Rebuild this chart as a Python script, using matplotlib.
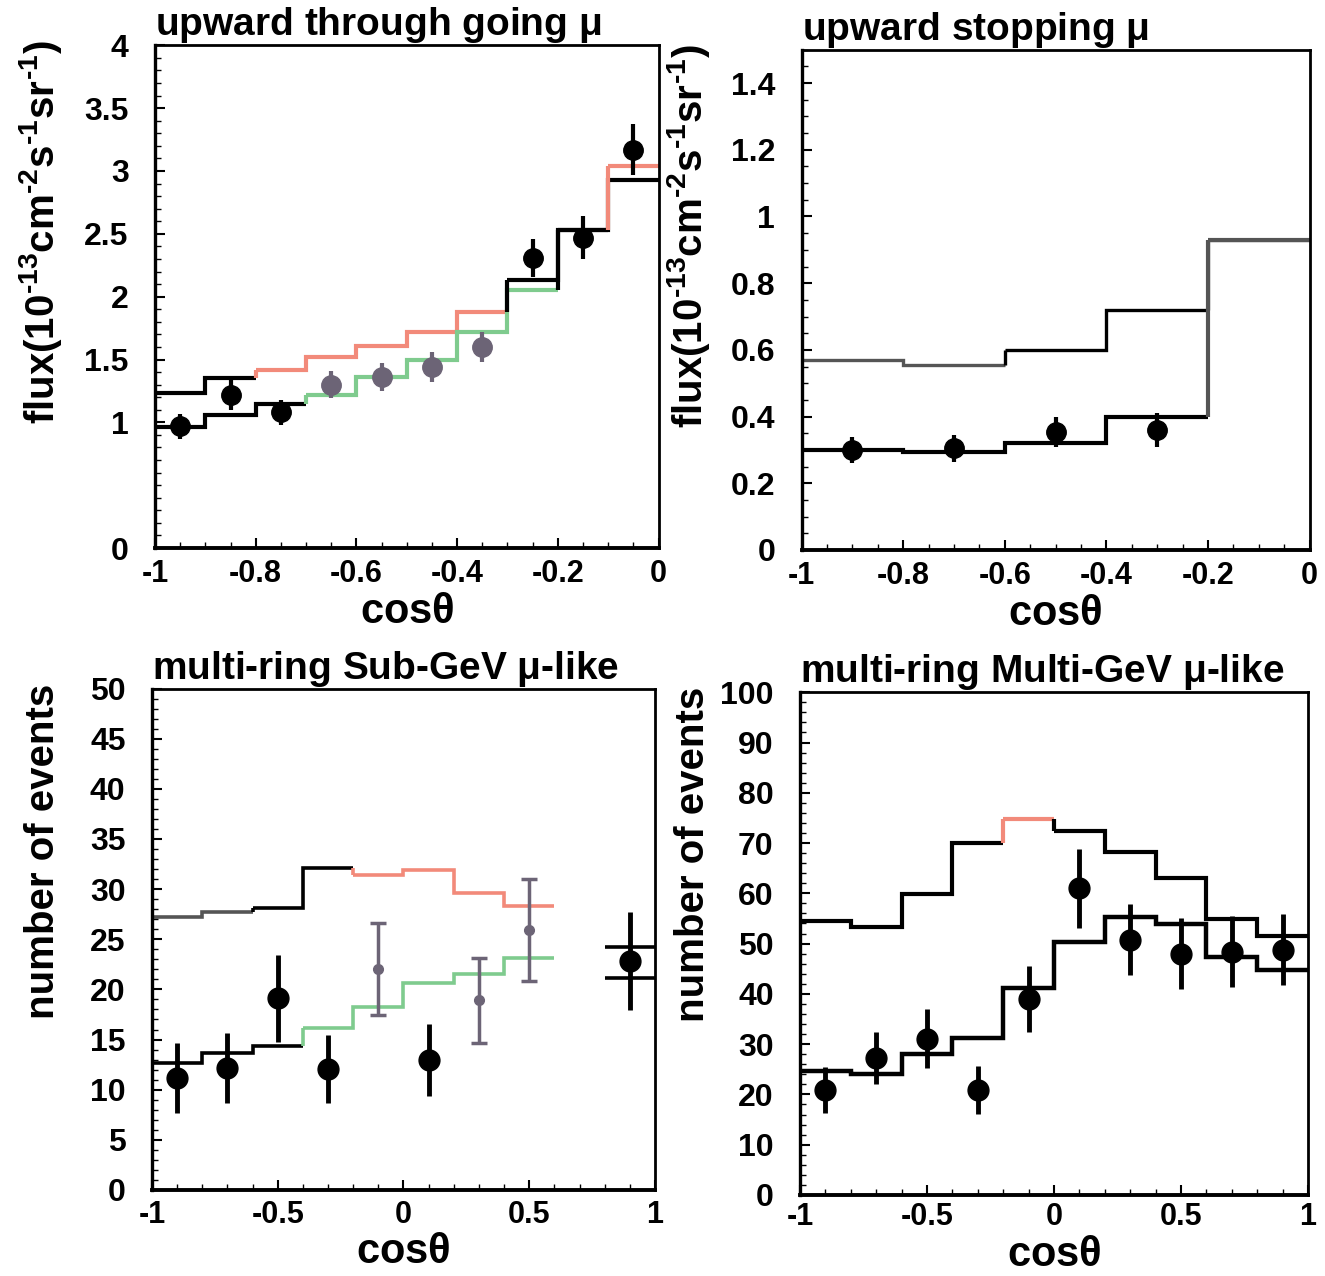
import matplotlib
matplotlib.use('Agg')
import matplotlib.pyplot as plt
from matplotlib.ticker import MultipleLocator

plt.rcParams['font.family'] = ['Liberation Sans', 'DejaVu Sans']
plt.rcParams['font.weight'] = 'bold'
plt.rcParams['mathtext.fontset'] = 'custom'
plt.rcParams['mathtext.rm'] = 'Liberation Sans'
plt.rcParams['mathtext.bf'] = 'Liberation Sans:bold'
plt.rcParams['mathtext.it'] = 'Liberation Sans:italic'

RED = '#f28a7a'
GREEN = '#7fcb8e'
GRAY = '#6c6476'
DGRAY = '#555555'

# ---- upward through going mu ----
edges1 = [-1.0, -0.9, -0.8, -0.7, -0.6, -0.5, -0.4, -0.3, -0.2, -0.1, 0.0]
upper1 = [1.23, 1.35, 1.42, 1.52, 1.61, 1.72, 1.88, 2.13, 2.53, 3.04]
upper1_col = ['k', 'k', RED, RED, RED, RED, RED, 'k', 'k', RED]
lower1 = [0.96, 1.06, 1.15, 1.22, 1.36, 1.50, 1.72, 2.05, 2.53, 2.93]
lower1_col = ['k', 'k', 'k', GREEN, GREEN, GREEN, GREEN, GREEN, 'k', 'k']
x1 = [-0.95, -0.85, -0.75, -0.65, -0.55, -0.45, -0.35, -0.25, -0.15, -0.05]
y1 = [0.97, 1.22, 1.08, 1.30, 1.36, 1.44, 1.60, 2.31, 2.47, 3.17]
err1 = [0.10, 0.12, 0.10, 0.11, 0.11, 0.12, 0.12, 0.15, 0.17, 0.20]
pt1_col = ['k', 'k', 'k', GRAY, GRAY, GRAY, GRAY, 'k', 'k', 'k']

# ---- upward stopping mu ----
edges2 = [-1.0, -0.8, -0.6, -0.4, -0.2, 0.0]
upper2 = [0.57, 0.555, 0.60, 0.72, 0.93]
upper2_col = [DGRAY, DGRAY, 'k', 'k', DGRAY]
lower2 = [0.30, 0.295, 0.32, 0.40, 0.93]
lower2_col = ['k', 'k', 'k', 'k', DGRAY]
x2 = [-0.9, -0.7, -0.5, -0.3]
y2 = [0.30, 0.305, 0.355, 0.36]
err2 = [0.04, 0.04, 0.045, 0.05]

# ---- multi-ring Sub-GeV mu-like ----
edges3 = [-1.0, -0.8, -0.6, -0.4, -0.2, 0.0, 0.2, 0.4, 0.6, 0.8, 1.0]
upper3 = [27.2, 27.7, 28.1, 32.1, 31.4, 31.9, 29.6, 28.3, 24.2, 24.2]
upper3_col = [DGRAY, DGRAY, 'k', 'k', RED, RED, RED, RED, None, 'k']
lower3 = [12.7, 13.7, 14.4, 16.2, 18.2, 20.6, 21.5, 23.1, 24.3, 21.1]
lower3_col = ['k', 'k', 'k', GREEN, GREEN, GREEN, GREEN, GREEN, None, 'k']
x3 = [-0.9, -0.7, -0.5, -0.3, 0.1, 0.9]
y3 = [11.2, 12.2, 19.1, 12.1, 13.0, 22.8]
err3 = [3.5, 3.5, 4.3, 3.4, 3.6, 4.9]
x3b = [-0.1, 0.3, 0.5]
y3b = [22.0, 18.9, 25.9]
err3b = [4.6, 4.2, 5.1]

# ---- multi-ring Multi-GeV mu-like ----
edges4 = [-1.0, -0.8, -0.6, -0.4, -0.2, 0.0, 0.2, 0.4, 0.6, 0.8, 1.0]
upper4 = [54.4, 53.4, 59.8, 70.1, 74.7, 72.3, 68.3, 63.1, 54.8, 51.6]
upper4_col = ['k', 'k', 'k', 'k', RED, 'k', 'k', 'k', 'k', 'k']
lower4 = [24.7, 24.1, 28.1, 31.3, 41.2, 50.4, 55.2, 53.8, 47.4, 44.8]
lower4_col = ['k'] * 10
x4 = [-0.9, -0.7, -0.5, -0.3, -0.1, 0.1, 0.3, 0.5, 0.7, 0.9]
y4 = [20.9, 27.3, 31.1, 20.9, 39.0, 61.0, 50.8, 48.0, 48.4, 48.8]
err4 = [4.5, 5.2, 5.8, 4.7, 6.5, 7.8, 7.0, 7.0, 7.0, 7.0]

xt_half = [-1, -0.8, -0.6, -0.4, -0.2, 0]
xt_full = [-1, -0.5, 0, 0.5, 1]


def draw_hist(ax, edges, vals, cols, lw):
    # consecutive bins with the same colour are drawn as one stairs piece
    n = len(vals)
    i = 0
    while i < n:
        j = i
        while j + 1 < n and cols[j + 1] == cols[i]:
            j += 1
        if cols[i] is not None:
            ax.stairs(vals[i:j + 1], edges[i:j + 2], baseline=None,
                      color=cols[i], lw=lw)
            if i > 0 and cols[i - 1] is not None:
                ax.vlines(edges[i], vals[i - 1], vals[i], color=cols[i], lw=lw)
        i = j + 1


def style(ax, title, xlim, ylim, xticks, yticks, ymin, xmin, ylabel, lab_x,
          xlab_y=-0.088, xpad=8):
    ax.set_xlim(*xlim)
    ax.set_ylim(*ylim)
    ax.set_xticks(xticks)
    ax.set_yticks(yticks)
    ax.set_xticklabels(['%g' % v for v in xticks])
    ax.set_yticklabels(['%g' % v for v in yticks])
    ax.yaxis.set_minor_locator(MultipleLocator(ymin))
    ax.xaxis.set_minor_locator(MultipleLocator(xmin))
    ax.tick_params(which='both', direction='in', top=False, right=False)
    ax.tick_params(which='major', length=7, width=1.5)
    ax.tick_params(which='minor', length=4, width=1)
    ax.tick_params(axis='y', pad=19, labelsize=23)
    ax.tick_params(axis='x', pad=xpad, labelsize=22)
    for lab in ax.get_xticklabels() + ax.get_yticklabels():
        lab.set_fontweight('bold')
    for s in ax.spines.values():
        s.set_linewidth(2)
    ax.spines['bottom'].set_linewidth(2.8)
    ax.spines['left'].set_linewidth(2.4)
    ax.set_title(title, loc='left', fontsize=28, fontweight='bold', pad=2)
    ax.set_xlabel(r'cos$\mathrm{\theta}$', fontsize=30, fontweight='bold')
    ax.xaxis.set_label_coords(0.5, xlab_y)
    ax.set_ylabel(ylabel, fontsize=29, fontweight='bold', loc='top')
    ax.yaxis.set_label_coords(lab_x, 1.01)


flux_lab = (r'flux(10$^{\mathbf{\text{-}13}}$cm$^{\mathbf{\text{-}2}}$'
            r's$^{\mathbf{\text{-}1}}$sr$^{\mathbf{\text{-}1}}$)')

fig = plt.figure(figsize=(13.25, 12.76), dpi=100)
ax1 = fig.add_axes([0.117, 0.5705, 0.380, 0.394])
ax2 = fig.add_axes([0.605, 0.569, 0.3834, 0.392])
ax3 = fig.add_axes([0.1147, 0.0674, 0.3796, 0.393])
ax4 = fig.add_axes([0.6038, 0.0635, 0.3834, 0.394])

# panel 1
draw_hist(ax1, edges1, upper1, upper1_col, 3)
draw_hist(ax1, edges1, lower1, lower1_col, 3)
for xi, yi, ei, ci in zip(x1, y1, err1, pt1_col):
    ax1.errorbar(xi, yi, yerr=ei, fmt='o', color=ci, ms=14, elinewidth=3, capsize=0)
style(ax1, r'upward through going $\mathrm{\mu}$', (-1, 0), (0, 4), xt_half,
      [0, 1, 1.5, 2, 2.5, 3, 3.5, 4], 0.1, 0.05, flux_lab, -0.18)

# panel 2
draw_hist(ax2, edges2, upper2, upper2_col, 2.4)
draw_hist(ax2, edges2, lower2, lower2_col, 3)
ax2.errorbar(x2, y2, yerr=err2, fmt='o', color='k', ms=14, elinewidth=3, capsize=0)
style(ax2, r'upward stopping $\mathrm{\mu}$', (-1, 0), (0, 1.5), xt_half,
      [0, 0.2, 0.4, 0.6, 0.8, 1, 1.2, 1.4], 0.05, 0.05, flux_lab, -0.177)

# panel 3
draw_hist(ax3, edges3, upper3, upper3_col, 2.6)
draw_hist(ax3, edges3, lower3, lower3_col, 2.6)
ax3.errorbar(x3, y3, yerr=err3, fmt='o', color='k', ms=15, elinewidth=3.5, capsize=0)
ax3.errorbar(x3b, y3b, yerr=err3b, fmt='o', color=GRAY, ms=7, elinewidth=2.5,
             capsize=6, capthick=2.5)
style(ax3, r'multi-ring Sub-GeV $\mathrm{\mu}$-like', (-1, 1), (0, 50), xt_full,
      list(range(0, 51, 5)), 1, 0.1, 'number of events', -0.179, -0.084, 7)

# panel 4
draw_hist(ax4, edges4, upper4, upper4_col, 3)
draw_hist(ax4, edges4, lower4, lower4_col, 3.2)
ax4.errorbar(x4, y4, yerr=err4, fmt='o', color='k', ms=15, elinewidth=3.5, capsize=0)
style(ax4, r'multi-ring Multi-GeV $\mathrm{\mu}$-like', (-1, 1), (0, 100), xt_full,
      list(range(0, 101, 10)), 2, 0.1, 'number of events', -0.173, -0.08, 5)

fig.savefig('out.png', dpi=100)
